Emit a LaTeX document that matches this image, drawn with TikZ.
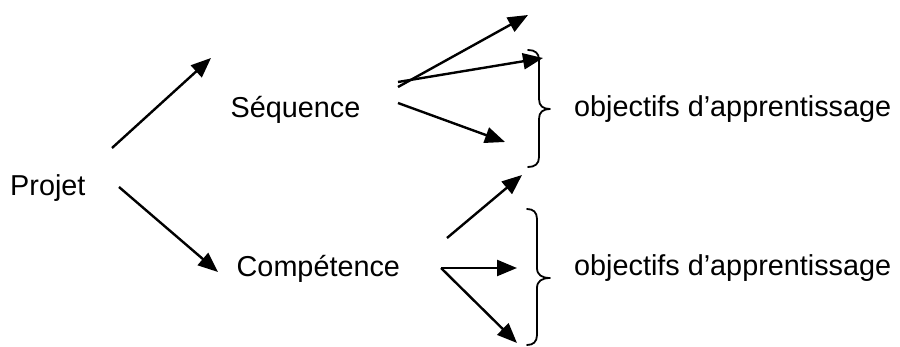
\documentclass[tikz,border=0pt]{standalone}
\usepackage{fontspec}
\setmainfont{Liberation Sans}
\usetikzlibrary{arrows.meta}
\tikzset{
  label text/.style={anchor=base west, inner sep=0pt, font=\fontsize{28.8}{34}\selectfont},
  link/.style={line width=2.4pt, -{Triangle[length=20pt,width=16pt]}},
  curly/.style={line width=1.8pt, line cap=round, line join=round}
}
\begin{document}
\begin{tikzpicture}[x=1pt,y=-1pt]
\useasboundingbox (0,0) rectangle (900,347);

% words
\node[label text] (projet) at (10,196) {Projet};
\node[label text] (seq) at (230.5,118) {Séquence};
\node[label text] (comp) at (236.5,277) {Compétence};
\node[label text] (obj1) at (574,117) {objectifs d’apprentissage};
\node[label text] (obj2) at (574,276) {objectifs d’apprentissage};

% arrow end points
\coordinate (pA) at (112,148);  \coordinate (pAt) at (211,58);
\coordinate (pB) at (119,187);  \coordinate (pBt) at (218,272);
\coordinate (s1) at (398,87);   \coordinate (s1t) at (528,15);
\coordinate (s2) at (398,82);   \coordinate (s2t) at (543,58);
\coordinate (s3) at (398,103);  \coordinate (s3t) at (505,142);
\coordinate (c1) at (447,238);  \coordinate (c1t) at (522,175);
\coordinate (c2) at (441,268);  \coordinate (c2t) at (517,268);
\coordinate (c3t) at (517,343);

% project branches
\draw[link] (pA) -- (pAt);
\draw[link] (pB) -- (pBt);

% sequence branches
\draw[link] (s1) -- (s1t);
\draw[link] (s2) -- (s2t);
\draw[link] (s3) -- (s3t);

% competence branches
\draw[link] (c1) -- (c1t);
\draw[link] (c2) -- (c2t);
\draw[link] (c2) -- (c3t);

% braces
\draw[curly] (528,50) .. controls (535,50) and (539,53) .. (539,60) -- (539,99)
  .. controls (539,106) and (543,109) .. (550,109)
  .. controls (543,109) and (539,112) .. (539,119) -- (539,157)
  .. controls (539,164) and (535,167) .. (528,167);
\draw[curly] (527,209) .. controls (533,209) and (537,212) .. (537,219) -- (537,268)
  .. controls (537,275) and (542,278) .. (550,278)
  .. controls (542,278) and (537,281) .. (537,288) -- (537,335)
  .. controls (537,342) and (533,345) .. (527,345);
\end{tikzpicture}
\end{document}
